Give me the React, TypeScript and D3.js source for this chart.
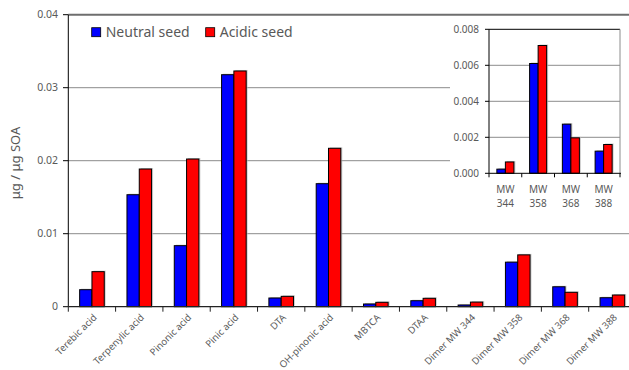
import React from "react";
import * as d3 from "d3";

// Compounds on the main axis
const categories = [
  "Terebic acid",
  "Terpenylic acid",
  "Pinonic acid",
  "Pinic acid",
  "DTA",
  "OH-pinonic acid",
  "MBTCA",
  "DTAA",
  "Dimer MW 344",
  "Dimer MW 358",
  "Dimer MW 368",
  "Dimer MW 388",
];
const neutralSeed = [
  0.00233, 0.01534, 0.00836, 0.03178, 0.00119, 0.01685, 0.00037, 0.00082,
  0.00023, 0.0061, 0.00273, 0.00123,
];
const acidicSeed = [
  0.0048, 0.01886, 0.02023, 0.03229, 0.00142, 0.0217, 0.0006, 0.00115,
  0.00063, 0.0071, 0.00197, 0.0016,
];
const yTicks = [0, 0.01, 0.02, 0.03, 0.04];
const yTickLabels = ["0", "0.01", "0.02", "0.03", "0.04"];

// Inset: dimers only
const insetCategories = [
  ["MW", "344"],
  ["MW", "358"],
  ["MW", "368"],
  ["MW", "388"],
];
const insetNeutral = [0.00023, 0.0061, 0.00273, 0.00123];
const insetAcidic = [0.00063, 0.0071, 0.00197, 0.0016];
const insetTicks = [0, 0.002, 0.004, 0.006, 0.008];
const insetTickLabels = ["0.000", "0.002", "0.004", "0.006", "0.008"];

const seriesNames = ["Neutral seed", "Acidic seed"];
const seriesColors = ["#0000FF", "#FF0000"];

const FONT = "'Noto Sans', 'Open Sans', sans-serif";
const TEXT = "#595959";

type BarsProps = {
  cats: string[];
  a: number[];
  b: number[];
  x: d3.ScaleBand<string>;
  y: d3.ScaleLinear<number, number>;
};

function Bars({ cats, a, b, x, y }: BarsProps) {
  const bw = x.bandwidth() * 0.26;
  const out: React.ReactNode[] = [];
  cats.forEach((c, i) => {
    const cx = (x(c) ?? 0) + x.bandwidth() / 2;
    [a[i], b[i]].forEach((v, k) => {
      const x0 = cx - bw + k * bw;
      const top = y(v);
      const h = y(0) - top;
      out.push(
        <rect
          key={`s${i}-${k}`}
          x={x0 + 1.5}
          y={top - 1}
          width={bw}
          height={h}
          fill="#b8b8b8"
          opacity={0.7}
        />
      );
    });
    [a[i], b[i]].forEach((v, k) => {
      const x0 = cx - bw + k * bw;
      const top = y(v);
      out.push(
        <rect
          key={`b${i}-${k}`}
          x={x0}
          y={top}
          width={bw}
          height={y(0) - top}
          fill={seriesColors[k]}
          stroke="#000"
          strokeWidth={1}
        />
      );
    });
  });
  return <g>{out}</g>;
}

export default function App() {
  const W = 629;
  const H = 370;

  // Main plot scales
  const x = d3
    .scaleBand<string>()
    .domain(categories)
    .range([68.3, 636]);
  const y = d3.scaleLinear().domain([0, 0.04]).range([306.7, 14.7]);

  // Inset scales
  const insetKeys = insetCategories.map((c) => c.join(" "));
  const xi = d3.scaleBand<string>().domain(insetKeys).range([489, 620]);
  const yi = d3.scaleLinear().domain([0, 0.008]).range([173.3, 29.3]);

  const catEdges = categories.map((c) => x(c) ?? 0).concat([x.range()[1]]);
  const insetEdges = insetKeys.map((c) => xi(c) ?? 0).concat([xi.range()[1]]);

  return (
    <svg
      width={W}
      height={H}
      style={{ position: "absolute", left: 0, top: 0, background: "#fff" }}
      fontFamily={FONT}
    >
      <rect x={0} y={0} width={W} height={H} fill="#fff" />

      {/* main gridlines */}
      {yTicks.slice(1).map((t) => (
        <line
          key={t}
          x1={68.3}
          x2={W}
          y1={y(t)}
          y2={y(t)}
          stroke={t === 0.04 ? "#6e6e6e" : "#8c8c8c"}
          strokeWidth={t === 0.04 ? 2 : 1}
        />
      ))}

      {/* main y axis */}
      <line x1={68.3} x2={68.3} y1={y(0.04)} y2={y(0)} stroke="#000" />
      {yTicks.map((t, i) => (
        <g key={t}>
          <line x1={63} x2={68.3} y1={y(t)} y2={y(t)} stroke="#000" />
          <text
            x={58}
            y={y(t)}
            dy="0.35em"
            textAnchor="end"
            fontSize={10.5}
            fill={TEXT}
          >
            {yTickLabels[i]}
          </text>
        </g>
      ))}
      <text
        transform={`translate(15,${163}) rotate(-90)`}
        textAnchor="middle"
        fontSize={13}
        fill={TEXT}
        dy="0.35em"
      >
        μg / μg SOA
      </text>

      <Bars cats={categories} a={neutralSeed} b={acidicSeed} x={x} y={y} />

      {/* main x axis */}
      <line x1={68.3} x2={W} y1={y(0)} y2={y(0)} stroke="#222" strokeWidth={1.2} />
      {catEdges.map((e, i) => (
        <line key={i} x1={e} x2={e} y1={y(0)} y2={y(0) + 5} stroke="#222" />
      ))}
      {categories.map((c) => {
        const cx = (x(c) ?? 0) + x.bandwidth() / 2;
        return (
          <text
            key={c}
            transform={`translate(${cx + 3},${y(0) + 9}) rotate(-45)`}
            textAnchor="end"
            fontSize={9.6}
            fill={TEXT}
            dy="0.35em"
          >
            {c}
          </text>
        );
      })}

      {/* legend */}
      {seriesNames.map((s, i) => {
        const lx = [91.7, 205.7][i];
        return (
          <g key={s}>
            <rect
              x={lx}
              y={27.7}
              width={9}
              height={9}
              fill={seriesColors[i]}
              stroke="#000"
              strokeWidth={0.8}
            />
            <text x={lx + 14} y={32.2} dy="0.35em" fontSize={14} fill={TEXT}>
              {s}
            </text>
          </g>
        );
      })}

      {/* inset */}
      <rect x={450} y={17} width={W - 450} height={208} fill="#fff" />
      {insetTicks.slice(1, 4).map((t) => (
        <line
          key={t}
          x1={489}
          x2={620}
          y1={yi(t)}
          y2={yi(t)}
          stroke="#8c8c8c"
        />
      ))}
      <line x1={489} x2={620} y1={yi(0.008)} y2={yi(0.008)} stroke="#000" />
      <line x1={620} x2={620} y1={yi(0.008)} y2={yi(0)} stroke="#8c8c8c" />
      <line x1={489} x2={489} y1={yi(0.008)} y2={yi(0)} stroke="#000" />
      {insetTicks.map((t, i) => (
        <g key={t}>
          <line x1={485} x2={489} y1={yi(t)} y2={yi(t)} stroke="#000" />
          <text
            x={479}
            y={yi(t)}
            dy="0.35em"
            textAnchor="end"
            fontSize={10}
            fill={TEXT}
          >
            {insetTickLabels[i]}
          </text>
        </g>
      ))}
      <Bars cats={insetKeys} a={insetNeutral} b={insetAcidic} x={xi} y={yi} />
      <line x1={489} x2={621} y1={yi(0)} y2={yi(0)} stroke="#000" />
      {insetEdges.map((e, i) => (
        <line key={i} x1={e} x2={e} y1={yi(0)} y2={yi(0) + 4} stroke="#000" />
      ))}
      {insetKeys.map((k, i) => {
        const cx = (xi(k) ?? 0) + xi.bandwidth() / 2;
        return (
          <text key={k} textAnchor="middle" fontSize={10} fill={TEXT}>
            <tspan x={cx} y={193}>
              {insetCategories[i][0]}
            </tspan>
            <tspan x={cx} y={207}>
              {insetCategories[i][1]}
            </tspan>
          </text>
        );
      })}
    </svg>
  );
}
